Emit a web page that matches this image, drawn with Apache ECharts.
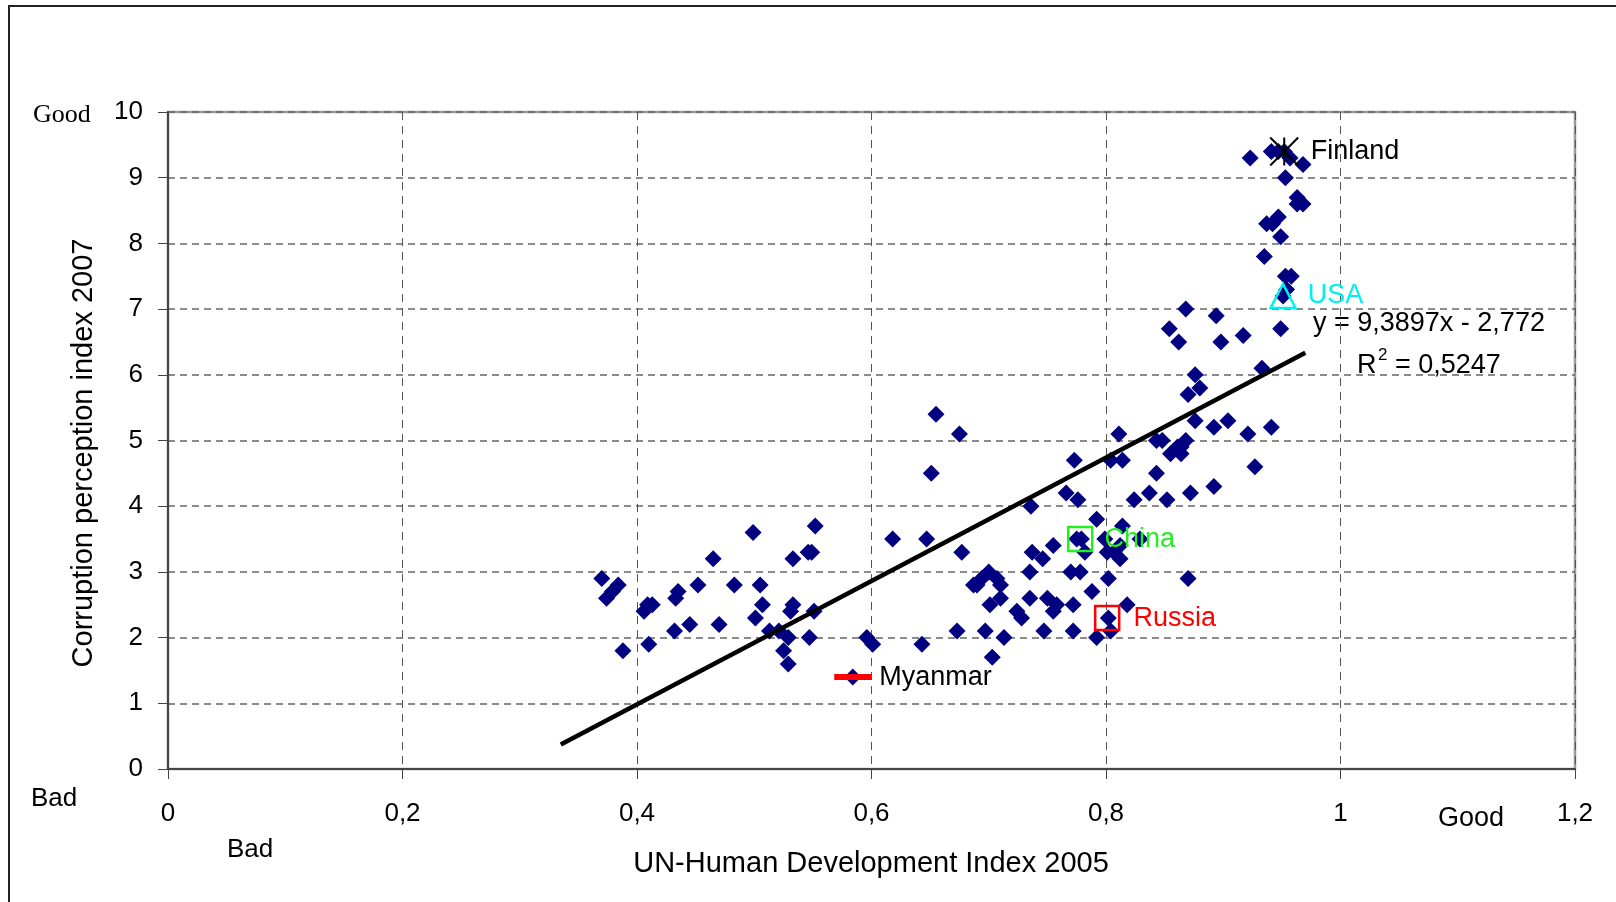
<!DOCTYPE html>
<html><head><meta charset="utf-8">
<script src="https://cdn.jsdelivr.net/npm/echarts@6/dist/echarts.min.js"></script>
<style>html,body{margin:0;padding:0;background:#fff}#c{width:1616px;height:902px}</style>
</head><body><div id="c"></div>
<script>
// [HDI 2005, CPI 2007]
const lowHdiPoints = [
  [0.370,2.9],[0.384,2.8],[0.379,2.7],[0.374,2.6],[0.388,1.8],[0.406,2.4],[0.409,2.5],[0.413,2.5],
  [0.410,1.9],[0.432,2.1],[0.433,2.6],[0.435,2.7],[0.445,2.2],[0.452,2.8],[0.465,3.2],[0.470,2.2],
  [0.483,2.8],[0.499,3.6],[0.501,2.3],[0.505,2.8],[0.507,2.5],[0.513,2.1],[0.521,2.1],[0.529,2.0],
  [0.525,1.8],[0.529,1.6],[0.531,2.4],[0.533,2.5],[0.533,3.2],[0.546,3.3],[0.549,3.3],[0.547,2.0],
  [0.551,2.4],[0.552,3.7],[0.596,2.0],[0.601,1.9],[0.618,3.5],[0.584,1.4]
];
const midHdiPoints = [
  [0.655,5.4],[0.675,5.1],[0.651,4.5],[0.647,3.5],[0.677,3.3],[0.736,4.0],[0.773,4.7],[0.766,4.2],
  [0.776,4.1],[0.792,3.8],[0.804,4.7],[0.814,4.7],[0.811,5.1],[0.843,5.0],[0.843,4.5],[0.824,4.1],
  [0.837,4.2],[0.775,3.5],[0.779,3.5],[0.782,3.3],[0.755,3.4],[0.737,3.3],[0.746,3.2],[0.735,3.0],
  [0.799,3.5],[0.801,3.3],[0.807,3.3],[0.812,3.2],[0.814,3.7],[0.812,3.4],[0.829,3.5],[0.770,3.0],
  [0.778,3.0],[0.802,2.9],[0.788,2.7],[0.700,3.0],[0.694,2.9],[0.690,2.8],[0.687,2.8],[0.707,2.9],
  [0.710,2.8],[0.710,2.6],[0.701,2.5],[0.735,2.6],[0.750,2.6],[0.758,2.5],[0.755,2.4],[0.724,2.4],
  [0.728,2.3],[0.772,2.5],[0.818,2.5],[0.802,2.3],[0.673,2.1],[0.697,2.1],[0.713,2.0],[0.747,2.1],
  [0.772,2.1],[0.792,2.0],[0.804,2.1],[0.643,1.9],[0.703,1.7]
];
const highHdiPoints = [
  [0.868,7.0],[0.854,6.7],[0.862,6.5],[0.894,6.9],[0.898,6.5],[0.917,6.6],[0.949,6.7],[0.933,6.1],
  [0.876,6.0],[0.880,5.8],[0.870,5.7],[0.876,5.3],[0.892,5.2],[0.904,5.3],[0.921,5.1],[0.941,5.2],
  [0.848,5.0],[0.868,5.0],[0.864,4.9],[0.861,4.9],[0.855,4.8],[0.864,4.8],[0.927,4.6],[0.852,4.1],
  [0.872,4.2],[0.892,4.3],[0.870,2.9]
];
const topHdiPoints = [
  [0.923,9.3],[0.941,9.4],[0.947,9.4],[0.952,9.4],[0.957,9.3],[0.968,9.2],[0.953,9.0],[0.963,8.7],
  [0.968,8.6],[0.963,8.6],[0.937,8.3],[0.942,8.3],[0.947,8.4],[0.949,8.1],[0.935,7.8],[0.953,7.5],
  [0.958,7.5],[0.954,7.3],[0.951,7.2]
];
const highlightNames = ['Finland','USA','China','Russia','Myanmar'];
const highlightHdi = [0.952, 0.951, 0.778, 0.801, 0.584];
const highlightCpi = [9.4, 7.2, 3.5, 2.3, 1.4];
const trendSlope = 9.3897;
const trendIntercept = -2.772;
const trendXRange = [0.335, 0.97];
const xTicks = [0, 0.2, 0.4, 0.6, 0.8, 1.0, 1.2];
const yTicks = [0,1,2,3,4,5,6,7,8,9,10];

const allPoints = lowHdiPoints.concat(midHdiPoints, highHdiPoints, topHdiPoints);
const trendData = trendXRange.map(x => [x, trendSlope * x + trendIntercept]);
const fmt = v => String(Math.round(v * 10) / 10).replace('.', ',');

const SANS = '"Liberation Sans", Arial, sans-serif';
const hlStyle = {
  Finland: {symbol:'path://M0,0L100,100M100,0L0,100M50,0L50,100', size:28, item:{color:'none', borderColor:'#000', borderWidth:2, opacity:1}, text:'#000', dist:10, off:0},
  USA: {symbol:'triangle', size:[25,24], item:{color:'rgba(0,0,0,0)', borderColor:'#00f0f0', borderWidth:2.5, opacity:1}, text:'#00f0f0', dist:11, off:0},
  China: {symbol:'rect', size:24, item:{color:'rgba(0,0,0,0)', borderColor:'#22ee22', borderWidth:2.5, opacity:1}, text:'#22ee22', dist:11, off:0},
  Russia: {symbol:'rect', size:24, item:{color:'rgba(0,0,0,0)', borderColor:'#ff0000', borderWidth:2.5, opacity:1}, text:'#ff0000', dist:13, off:1},
  Myanmar: {symbol:'rect', size:[37,6], item:{color:'#ff0000', opacity:1}, text:'#000', dist:8, off:1}
};
const highlightSeries = highlightNames.map((n, i) => {
  const s = hlStyle[n];
  return {
    type:'scatter', name:n, z:5, symbol:s.symbol, symbolSize:s.size, itemStyle:s.item,
    data:[{name:n, value:[highlightHdi[i], highlightCpi[i]]}],
    label:{show:true, position:'right', distance:s.dist, offset:[0,s.off], formatter:'{b}',
      color:s.text, fontSize:27, fontFamily:SANS, textBorderWidth:0, textShadowBlur:0, opacity:1},
    emphasis:{disabled:true}, silent:true
  };
});

const chart = echarts.init(document.getElementById('c'), null, {renderer:'canvas'});
chart.setOption({
  animation:false,
  backgroundColor:'#fff',
  grid:{left:168, top:112, width:1407, height:657, show:true, borderColor:'#999', borderWidth:2.5, backgroundColor:'#fff'},
  xAxis:{type:'value', min:0, max:1.2, interval:0.2,
    axisLine:{lineStyle:{color:'#444', width:2}},
    axisTick:{show:true, length:10, lineStyle:{color:'#444', width:1}},
    axisLabel:{margin:32, fontSize:26, color:'#000', fontFamily:SANS, formatter:v => fmt(v), showMaxLabel:true, showMinLabel:true},
    splitLine:{show:true, lineStyle:{color:'#555', width:1, type:[8,6]}}
  },
  yAxis:{type:'value', min:0, max:10, interval:1,
    axisLine:{show:true, lineStyle:{color:'#444', width:2}},
    axisTick:{show:true, length:10, lineStyle:{color:'#444', width:1}},
    axisLabel:{margin:25, fontSize:26, color:'#000', fontFamily:SANS, formatter:v => fmt(v)},
    splitLine:{show:true, lineStyle:{color:'#666', width:1.5, type:[7,5]}}
  },
  series:[
    {type:'scatter', name:'countries', symbol:'diamond', symbolSize:17, z:3,
     itemStyle:{color:'#000080', opacity:1}, data:allPoints, silent:true},
    {type:'line', name:'trend', data:trendData, symbol:'none', z:4,
     lineStyle:{color:'#000', width:4.5, opacity:1}, silent:true}
  ].concat(highlightSeries),
  graphic:[
    {type:'rect', z:-10, silent:true, shape:{x:9, y:6, width:1800, height:1200}, style:{fill:'none', stroke:'#222', lineWidth:2}},
    {type:'text', x:33, y:115, style:{text:'Good', font:'26px "Liberation Serif", serif', fill:'#000', textAlign:'left', textVerticalAlign:'middle'}},
    {type:'text', x:31, y:799, style:{text:'Bad', font:'26px ' + SANS, fill:'#000', textAlign:'left', textVerticalAlign:'middle'}},
    {type:'text', x:227, y:850, style:{text:'Bad', font:'26px ' + SANS, fill:'#000', textAlign:'left', textVerticalAlign:'middle'}},
    {type:'text', x:1438, y:819, style:{text:'Good', font:'27px ' + SANS, fill:'#000', textAlign:'left', textVerticalAlign:'middle'}},
    {type:'text', x:871, y:864, style:{text:'UN-Human Development Index 2005', font:'29px ' + SANS, fill:'#000', textAlign:'center', textVerticalAlign:'middle'}},
    {type:'text', x:84, y:453, rotation:Math.PI/2, style:{text:'Corruption perception index 2007', font:'29px ' + SANS, fill:'#000', textAlign:'center', textVerticalAlign:'middle'}},
    {type:'text', x:1313, y:324, style:{text:'y = 9,3897x - 2,772', font:'27px ' + SANS, fill:'#000', textAlign:'left', textVerticalAlign:'middle'}},
    {type:'text', x:1357, y:366, style:{text:'R', font:'27px ' + SANS, fill:'#000', textAlign:'left', textVerticalAlign:'middle'}},
    {type:'text', x:1378, y:355, style:{text:'2', font:'17px ' + SANS, fill:'#000', textAlign:'left', textVerticalAlign:'middle'}},
    {type:'text', x:1395, y:366, style:{text:'= 0,5247', font:'27px ' + SANS, fill:'#000', textAlign:'left', textVerticalAlign:'middle'}}
  ]
});
</script></body></html>
